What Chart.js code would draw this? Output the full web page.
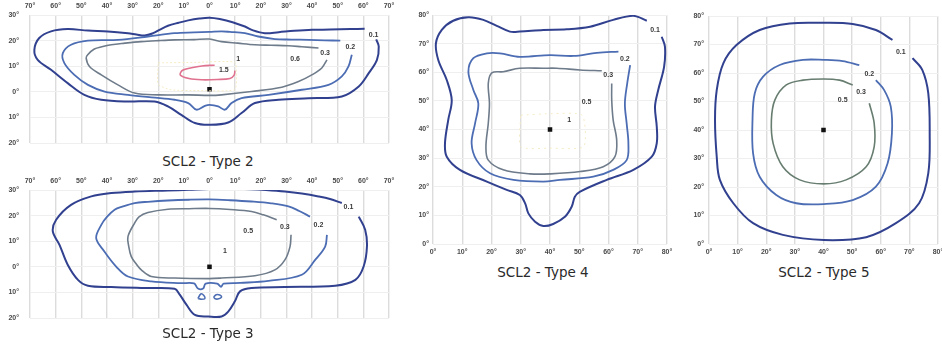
<!DOCTYPE html>
<html>
<head>
<meta charset="utf-8">
<script src="https://cdn.jsdelivr.net/npm/chart.js@4"></script>
<style>
  html, body { margin: 0; padding: 0; background: #fff; }
  body { width: 942px; height: 345px; position: relative; overflow: hidden; }
  .cv { position: absolute; }
  .ttl { position: absolute; height: 18px; line-height: 18px; text-align: center;
         font-family: "DejaVu Sans", sans-serif; font-size: 13.5px; color: #2a2a2a; white-space: nowrap; }
</style>
</head>
<body>
<div class="cv" style="left:0;top:0;width:400px;height:150px"><canvas id="c2"></canvas></div>
<div class="cv" style="left:0;top:170px;width:400px;height:155px"><canvas id="c3"></canvas></div>
<div class="cv" style="left:410px;top:0;width:270px;height:262px"><canvas id="c4"></canvas></div>
<div class="cv" style="left:690px;top:0;width:252px;height:262px"><canvas id="c5"></canvas></div>
<div class="ttl" style="left:108px;top:152px;width:200px">SCL2 - Type 2</div>
<div class="ttl" style="left:108px;top:324px;width:200px">SCL2 - Type 3</div>
<div class="ttl" style="left:443px;top:263px;width:200px">SCL2 - Type 4</div>
<div class="ttl" style="left:724px;top:263px;width:200px">SCL2 - Type 5</div>
<script>
// ---------------- DATA ----------------
// Titles
const titles = ["SCL2 - Type 2", "SCL2 - Type 3", "SCL2 - Type 4", "SCL2 - Type 5"];

// Axis tick values (degrees)
const t23_xTicks = [-70, -60, -50, -40, -30, -20, -10, 0, 10, 20, 30, 40, 50, 60, 70];
const t23_yTicks = [-20, -10, 0, 10, 20, 30];
const t45_xTicks = [0, 10, 20, 30, 40, 50, 60, 70, 80];
const t45_yTicks = [0, 10, 20, 30, 40, 50, 60, 70, 80];

// ---- Type 2 isolux contours [x, y] in degrees ----
const t2_c01 = [[60.5,24.6],[55,24.5],[47,24.3],[40,24.2],[33,23.8],[27,23.3],[21.6,22.9],[17,24],[13.8,25.5],[9,27.2],[4,28.4],[0,28.9],[-4,28.6],[-8.3,27.9],[-12,27],[-16.2,25.8],[-19.5,24.2],[-22,22.9],[-25.3,22],[-28.5,22.4],[-31.8,22.9],[-39.6,23.6],[-47.4,23.9],[-55.3,24.5],[-61.8,23.6],[-66.4,21],[-68.3,16.4],[-67,12.5],[-61.8,8.6],[-55.3,3.4],[-48.8,-1.2],[-42.2,-3.1],[-31.8,-3.8],[-21.4,-3.8],[-16.2,-5.7],[-11,-9],[-5.7,-12.2],[0,-12.9],[7.3,-12],[12.5,-8.3],[17.7,-4.4],[26.9,-3.1],[38.6,-2.5],[51.6,-1.8],[58.2,2.1],[62.1,7.3],[65.3,12.5],[66,17.7],[65,20.5]];
const t2_c02 = [[51,20],[45,20.1],[38.6,20.3],[32,20.4],[25.5,20.6],[19,21.6],[13.8,22.9],[8,23.4],[4.7,23.6],[0,23.4],[-6,23.2],[-13.6,22.9],[-24,21.6],[-35.7,20.3],[-47.4,20],[-54,18.4],[-57.2,15.1],[-56.6,11.2],[-52.7,6.6],[-47.4,2.7],[-40.9,0.1],[-31.8,-1.2],[-22.7,-2.2],[-13.6,-3.1],[-8.3,-4.4],[-5.1,-7],[-1.8,-5.5],[0,-5.1],[3.4,-5.7],[6,-7],[8.6,-4.4],[12.5,-2.5],[23,-1.2],[36,0.8],[46.4,2.7],[51.6,6],[54.2,9.9],[55.5,14.5]];
const t2_c03 = [[42.5,17.1],[36,17.6],[30.8,18],[24,18.2],[17.7,18.4],[11,19],[4.7,19.6],[0,20.6],[-6,20.4],[-13.6,20.3],[-20,20],[-26.6,19.6],[-33,19],[-38.3,18.4],[-42,17.6],[-44.9,16.7],[-47.5,14.5],[-48.1,13.2],[-46.8,9.9],[-42.2,6.6],[-35.7,2.7],[-29.2,-0.5],[-20,-1.2],[-8.3,-1.2],[0,-1.4],[4.7,-1.2],[16.4,0.1],[28.2,1.8],[34.7,4],[39.9,6.6],[43.8,9.3],[45.8,12.5]];
const t2_c1  = [[-20,11.3],[-5,11.5],[9.8,11.5],[10.5,6],[9.8,0.8],[-5,0.5],[-15,0.8],[-20,3],[-20,11.3]];
const t2_c15 = [[9.9,8.3],[9.6,6.5],[8,5.2],[3,4.8],[-3,4.7],[-8,5.2],[-11.4,6.6],[-10.5,8.4],[-7,9.4],[-3,10.1],[2,10.4]];
const t2_center = [[0,1]];
const t2_labels = [["0.1",64,22.3],["0.2",54.9,17.5],["0.3",45.1,15.1],["0.6",33.4,12.8],["1",11.2,12.6],["1.5",5.6,8.4]];

// ---- Type 3 ----
const t3_c01 = [[51.6,24.9],[47,26.5],[42.5,27.5],[36,28.6],[29.4,29.4],[22,30],[16.4,30.3],[8,30.5],[0,30.4],[-8,30.1],[-16.2,29.8],[-29.2,29.4],[-38.3,28.8],[-46.1,27.5],[-54,24.2],[-59.8,18.4],[-61.1,13.8],[-58.5,8.6],[-55.3,0.8],[-51.3,-5.1],[-47.4,-7.4],[-38.3,-7.9],[-25.3,-8.3],[-13.6,-8.6],[-11.6,-10.9],[-9,-14.8],[-5.7,-18.8],[-0.5,-19.4],[4.7,-19.4],[7.3,-17.5],[9.9,-13.5],[11.9,-9.6],[16.4,-8.3],[29.4,-7.9],[49,-7.4],[56.9,-5.1],[60.1,0.1],[61.4,7.9],[60.7,14.5],[58.2,19.6]];
const t3_c02 = [[39.2,19.6],[35,21.8],[30.8,23.6],[24,24.8],[16.4,25.5],[8,26],[0,26.3],[-8,26.2],[-16.2,25.9],[-24,25.4],[-29.2,24.9],[-34,23.5],[-37,22.3],[-40,19.5],[-42.2,16.4],[-44.2,11.2],[-41,6],[-36.4,0.1],[-31.8,-3.8],[-22.7,-5.7],[-11,-6.4],[-6,-6.5],[-4.5,-8.5],[-2.5,-8.5],[-1.5,-6.6],[3,-6.6],[4.5,-7.8],[5.5,-6.6],[12,-6.3],[23,-5.5],[36,-3.1],[41.2,2.7],[45.1,7.9],[45.8,12.5]];
const t3_c03 = [[26.2,18.4],[21,20.3],[16.4,21.6],[8,22.4],[0,22.8],[-8,22.7],[-16.2,22.5],[-24,21.2],[-27.5,19.5],[-29.2,17.1],[-31.8,11.8],[-31.5,8],[-30.5,4],[-28.5,1],[-26.6,-1.2],[-22.7,-3.8],[-13.6,-4.4],[0,-4.6],[4.7,-4.4],[17.7,-3.5],[25.5,-1.2],[29.4,2.7],[31.4,7.9],[31.8,12.5]];
const t3_loopL = [[-4.5,-12.4],[-3.4,-10.6],[-2.2,-11.2],[-1.8,-12.4],[-3.1,-12.7],[-4.5,-12.4]];
const t3_loopR = [[1.6,-11.8],[2.6,-10.9],[4,-11],[4.7,-11.8],[3.6,-12.5],[2.2,-12.5],[1.6,-11.8]];
const t3_center = [[0,0]];
const t3_labels = [["0.1",54.2,23.3],["0.2",42.5,16.4],["0.3",29.4,15.7],["0.5",15.1,13.8],["1",6,6]];

// ---- Type 4 ----
const t4_c01 = [[73.1,78],[68.5,79.7],[61.6,78.3],[53.7,75.9],[45.7,75],[37.7,74.8],[29.7,74.2],[26.3,74.2],[21.8,76.2],[17.2,78.3],[12.1,79.2],[6.9,78],[3,74.8],[1,70.1],[1.8,64.3],[4.7,57.3],[6.4,50.3],[5.2,43.3],[4.1,35.2],[4.7,30.5],[9.2,25.9],[18.4,21.8],[25.2,18.9],[29.7,17.1],[31.5,14.2],[32.6,10.7],[34.9,7.8],[37.7,6.3],[41.1,7],[45.1,9.5],[47.4,13],[48.5,16.5],[50.3,18.3],[59.4,22.4],[68.5,25.9],[74.8,30.5],[76.5,35.2],[76.5,41],[75.9,48],[77,53.8],[79,61.9],[79.3,68.9],[78.2,72.4]];
const t4_c02 = [[63.4,67.2],[56,66.8],[48,65.7],[40,66],[29.7,65.4],[22.9,66.6],[18.4,66.6],[13.8,64.9],[12.1,60.2],[13.8,53.8],[15.5,49.1],[14.4,42.2],[13.2,35.2],[14.9,29.3],[19.5,24.7],[27.5,22.4],[37.7,21.8],[43.4,22.4],[54.8,23.5],[61.6,25.9],[66.2,29.3],[66.8,35.2],[66.2,42.2],[65.6,49.1],[66.4,56.1],[67.4,62.5]];
const t4_c03 = [[57.7,60.5],[50.3,60.8],[42.3,61.4],[37.7,61.4],[29.7,61.4],[24,60.2],[20.1,59.8],[18.9,56.1],[19.3,49.1],[18.9,42.2],[18.1,34],[18.9,29.3],[24,25.9],[33.2,24.5],[40,24.5],[50.3,25.3],[58.2,27],[62.2,30.5],[62.8,36.3],[61.6,43.3],[61.1,50.3],[61.1,56.1]];
const t4_c1  = [[30,45],[40,45.5],[51,45],[51.5,34],[40,33.5],[30,34],[30,45]];
const t4_center = [[40,40]];
const t4_labels = [["0.1",75.9,74.8],["0.2",65.6,64.5],["0.3",59.9,59],["0.5",52.5,49.7],["1",46.6,43.3]];

// ---- Type 5 ----
const t5_c01 = [[64.1,71.6],[58.3,75.1],[50.2,77.2],[40.1,77.6],[28.2,77.4],[17.7,75.1],[9.6,69.8],[5,63.4],[2.7,54],[2.1,43.5],[2.7,30.6],[3.8,22.5],[8.5,14.3],[15.4,7.3],[25.8,3.2],[40.1,1.4],[54.9,2.4],[65.3,7.3],[73.4,14.3],[76.6,24.8],[77.1,38.8],[76.6,52.9],[74.5,61.1],[71.1,65.2]];
const t5_c02 = [[52.5,62.8],[46.7,64.2],[40.1,64.6],[32.8,64.6],[24.7,62.8],[18.9,58.7],[16,52.9],[15.2,43.5],[15.4,31.8],[17.7,23.6],[23.5,17.2],[30.5,14.3],[40.1,14],[50.2,15.4],[58.3,20.1],[62.4,28.3],[63.9,38.8],[63.5,48.2],[61.2,54],[58.3,57.5]];
const t5_c03 = [[50.2,55.8],[45.6,57.5],[40.1,57.9],[32.8,57.5],[27,55.8],[23,50.5],[21.8,43.5],[22.4,35.3],[25.8,27.1],[31.7,22.5],[40.1,21.1],[47.9,22.5],[54.9,27.1],[57.7,34.1],[57.7,42.4],[56,49.4]];
const t5_center = [[40,40]];
const t5_labels = [["0.1",67,67.5],["0.2",56,59.6],["0.3",53.1,53.4],["0.5",46.7,50.5]];

// ---------------- STYLE / BUILD ----------------
const COL = { c01: "#31418f", c02: "#4c6db3", c03: "#6e7b8a", c03g: "#677d70", c1: "#f5ecc6", c15: "#e0728f" };
const toPts = arr => arr.map(p => ({ x: p[0], y: p[1] }));

function line(arr, color, width, extra) {
  return Object.assign({
    data: toPts(arr), showLine: true, borderColor: color, borderWidth: width,
    pointRadius: 0, tension: 0.35, fill: false
  }, extra || {});
}
function marker(arr) {
  return { data: toPts(arr), showLine: false, pointStyle: "rect", pointRadius: 3.2,
           backgroundColor: "#111", borderColor: "#111", borderWidth: 0 };
}
function labelPlugin(items) {
  return {
    id: "contourLabels",
    afterDatasetsDraw(chart) {
      const ctx = chart.ctx, xs = chart.scales.x, ys = chart.scales.y;
      ctx.save();
      ctx.font = "bold 7px 'Liberation Sans', sans-serif";
      ctx.fillStyle = "#3a3a3a";
      ctx.textAlign = "center";
      ctx.textBaseline = "middle";
      items.forEach(it => ctx.fillText(it[0], xs.getPixelForValue(it[1]), ys.getPixelForValue(it[2])));
      ctx.restore();
    }
  };
}
function fixSize(size) {
  return function (scale) {
    if (scale.isHorizontal()) scale.height = size; else scale.width = size;
    scale.paddingLeft = 0; scale.paddingRight = 0; scale.paddingTop = 0; scale.paddingBottom = 0;
  };
}
function makeChart(id, datasets, labels, cfg) {
  const tickFont = { family: "'Liberation Sans', sans-serif", size: 7, weight: "bold" };
  new Chart(document.getElementById(id), {
    type: "scatter",
    data: { datasets },
    options: {
      responsive: true, maintainAspectRatio: false, animation: false,
      layout: { padding: cfg.pad },
      plugins: { legend: { display: false }, tooltip: { enabled: false }, title: { display: false } },
      scales: {
        x: {
          type: "linear", position: cfg.xPos, min: cfg.xMin, max: cfg.xMax,
          afterFit: fixSize(cfg.xH),
          afterBuildTicks: s => { s.ticks = cfg.xTicks.map(v => ({ value: v })); },
          ticks: { font: tickFont, color: "#4a4a4a", padding: cfg.xPadT, maxRotation: 0, autoSkip: false,
                   callback: v => Math.abs(v) + "°" },
          grid: { color: "#dcdcdc", lineWidth: 1.4, drawTicks: false },
          border: { display: false }
        },
        y: {
          type: "linear", min: cfg.yMin, max: cfg.yMax,
          afterFit: fixSize(cfg.yW),
          afterBuildTicks: s => { s.ticks = cfg.yTicks.map(v => ({ value: v })); },
          ticks: { font: tickFont, color: "#4a4a4a", padding: cfg.yPadT, autoSkip: false,
                   callback: v => Math.abs(v) + "°" },
          grid: { color: "#efefef", lineWidth: 1, drawTicks: false },
          border: { display: false }
        }
      }
    },
    plugins: [labelPlugin(labels)]
  });
}

// Type 2
makeChart("c2", [
  line(t2_c1, COL.c1, 1, { borderDash: [2, 2], tension: 0.2 }),
  line(t2_c15, COL.c15, 1.6),
  line(t2_c03, COL.c03, 1.6),
  line(t2_c02, COL.c02, 1.8),
  line(t2_c01, COL.c01, 2),
  marker(t2_center)
], t2_labels, { pad: { left: 0, top: 0, right: 11, bottom: 7 }, xPos: "top", xMin: -70, xMax: 70, yMin: -20, yMax: 30,
  xTicks: t23_xTicks, yTicks: t23_yTicks, xH: 15, yW: 30, xPadT: 5, yPadT: 11 });

// Type 3
makeChart("c3", [
  line(t3_loopL, COL.c02, 1.6, { tension: 0.3 }),
  line(t3_loopR, COL.c02, 1.6, { tension: 0.3 }),
  line(t3_c03, COL.c03, 1.6),
  line(t3_c02, COL.c02, 1.8),
  line(t3_c01, COL.c01, 2),
  marker(t3_center)
], t3_labels, { pad: { left: 0, top: 0, right: 11, bottom: 7 }, xPos: "top", xMin: -70, xMax: 70, yMin: -20, yMax: 30,
  xTicks: t23_xTicks, yTicks: t23_yTicks, xH: 20, yW: 30, xPadT: 5, yPadT: 11 });

// Type 4
makeChart("c4", [
  line(t4_c1, COL.c1, 1, { borderDash: [2, 4], tension: 0.2 }),
  line(t4_c03, COL.c03, 1.6),
  line(t4_c02, COL.c02, 1.8),
  line(t4_c01, COL.c01, 2),
  marker(t4_center)
], t4_labels, { pad: { left: 0, top: 15, right: 13, bottom: 0 }, xPos: "bottom", xMin: 0, xMax: 80, yMin: 0, yMax: 80,
  xTicks: t45_xTicks, yTicks: t45_yTicks, xH: 18, yW: 23, xPadT: 4, yPadT: 4 });

// Type 5
makeChart("c5", [
  line(t5_c03, COL.c03g, 1.6),
  line(t5_c02, COL.c02, 1.8),
  line(t5_c01, COL.c01, 2),
  marker(t5_center)
], t5_labels, { pad: { left: 0, top: 16, right: 3, bottom: 0 }, xPos: "bottom", xMin: 0, xMax: 80, yMin: 0, yMax: 80,
  xTicks: t45_xTicks, yTicks: t45_yTicks, xH: 18, yW: 19, xPadT: 4, yPadT: 5 });
</script>
</body>
</html>
